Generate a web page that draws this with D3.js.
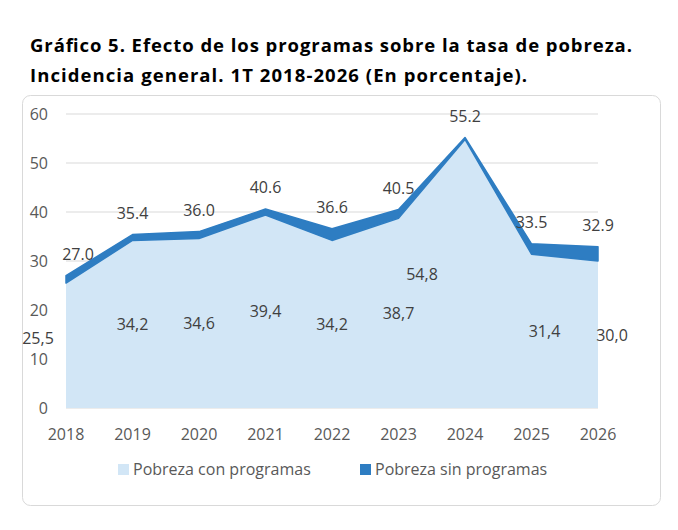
<!DOCTYPE html>
<html><head><meta charset="utf-8">
<script src="https://cdn.jsdelivr.net/npm/d3@7"></script>
<style>body{margin:0;background:#fff}</style>
</head><body><svg id="c" width="678" height="530"></svg>
<script>
const years = ['2018','2019','2020','2021','2022','2023','2024','2025','2026'];
const conProgramas = [25.5, 34.2, 34.6, 39.4, 34.2, 38.7, 54.8, 31.4, 30.0];
const sinProgramas = [27.0, 35.4, 36.0, 40.6, 36.6, 40.5, 55.2, 33.5, 32.9];
const conLabels = ['25,5','34,2','34,6','39,4','34,2','38,7','54,8','31,4','30,0'];
const sinLabels = ['27.0','35.4','36.0','40.6','36.6','40.5','55.2','33.5','32.9'];
const yTicks = [0,10,20,30,40,50,60];
// label nudges (px)
const sinDx = [12,0,0,0,0,0,0,0,0];
const conDx = [-28,0,0,0,0,0,-43,13,14];
const conDy = [-8,0,0,0,0,0,0,0,0];

const svg = d3.select('#c');
const font = '"Open Sans", sans-serif';

svg.append('text').attr('x',30).attr('y',52).attr('font-family',font).attr('font-weight','bold')
  .attr('font-size',18.5).attr('fill','#000').attr('textLength',602).text('Gráfico 5. Efecto de los programas sobre la tasa de pobreza.');
svg.append('text').attr('x',30).attr('y',82).attr('font-family',font).attr('font-weight','bold')
  .attr('font-size',18.5).attr('fill','#000').attr('textLength',497).text('Incidencia general. 1T 2018-2026 (En porcentaje).');

svg.append('rect').attr('x',22.5).attr('y',95.5).attr('width',638).attr('height',410).attr('rx',8)
  .attr('fill','#fff').attr('stroke','#d9d9d9');

const x = d3.scalePoint().domain(years).range([66,598]);
const y = d3.scaleLinear().domain([0,60]).range([408,114]);

const grid = svg.append('g');
yTicks.forEach(t => grid.append('line').attr('x1',66).attr('x2',598).attr('y1',y(t)).attr('y2',y(t))
  .attr('stroke','#d9d9d9'));
svg.append('g').selectAll('text').data(yTicks).enter().append('text')
  .attr('x',48).attr('y',d=>y(d)+6).attr('text-anchor','end').attr('font-family',font)
  .attr('font-size',16).attr('fill','#595959').text(d=>d);

const lower = d3.area().x((d,i)=>x(years[i])).y0(y(0)).y1(d=>y(d));
svg.append('path').datum(conProgramas).attr('d',lower).attr('fill','#d2e6f6');
const band = d3.area().x((d,i)=>x(years[i])).y0((d,i)=>y(conProgramas[i])).y1(d=>y(d));
svg.append('path').datum(sinProgramas).attr('d',band).attr('fill','#2e7dc2')
  .attr('stroke','#2e7dc2').attr('stroke-width',1.5).attr('stroke-linejoin','round');

svg.append('g').selectAll('text').data(years).enter().append('text')
  .attr('x',d=>x(d)).attr('y',440).attr('text-anchor','middle').attr('font-family',font)
  .attr('font-size',16).attr('fill','#595959').text(d=>d);

svg.append('g').selectAll('text').data(sinProgramas).enter().append('text')
  .attr('x',(d,i)=>x(years[i])+sinDx[i]).attr('y',d=>y(d)-16).attr('text-anchor','middle')
  .attr('font-family',font).attr('font-size',16).attr('fill','#404040').text((d,i)=>sinLabels[i]);
svg.append('g').selectAll('text').data(conProgramas).enter().append('text')
  .attr('x',(d,i)=>x(years[i])+conDx[i]).attr('y',(d,i)=>y(d/2)+6+conDy[i]).attr('text-anchor','middle')
  .attr('font-family',font).attr('font-size',16).attr('fill','#404040').text((d,i)=>conLabels[i]);

const leg = svg.append('g').attr('font-family',font).attr('font-size',16).attr('fill','#595959');
leg.append('rect').attr('x',118).attr('y',464).attr('width',11).attr('height',11).attr('fill','#d2e6f6');
leg.append('text').attr('x',133).attr('y',475).text('Pobreza con programas');
leg.append('rect').attr('x',360).attr('y',464).attr('width',11).attr('height',11).attr('fill','#2e7dc2');
leg.append('text').attr('x',375).attr('y',475).text('Pobreza sin programas');
</script></body></html>
